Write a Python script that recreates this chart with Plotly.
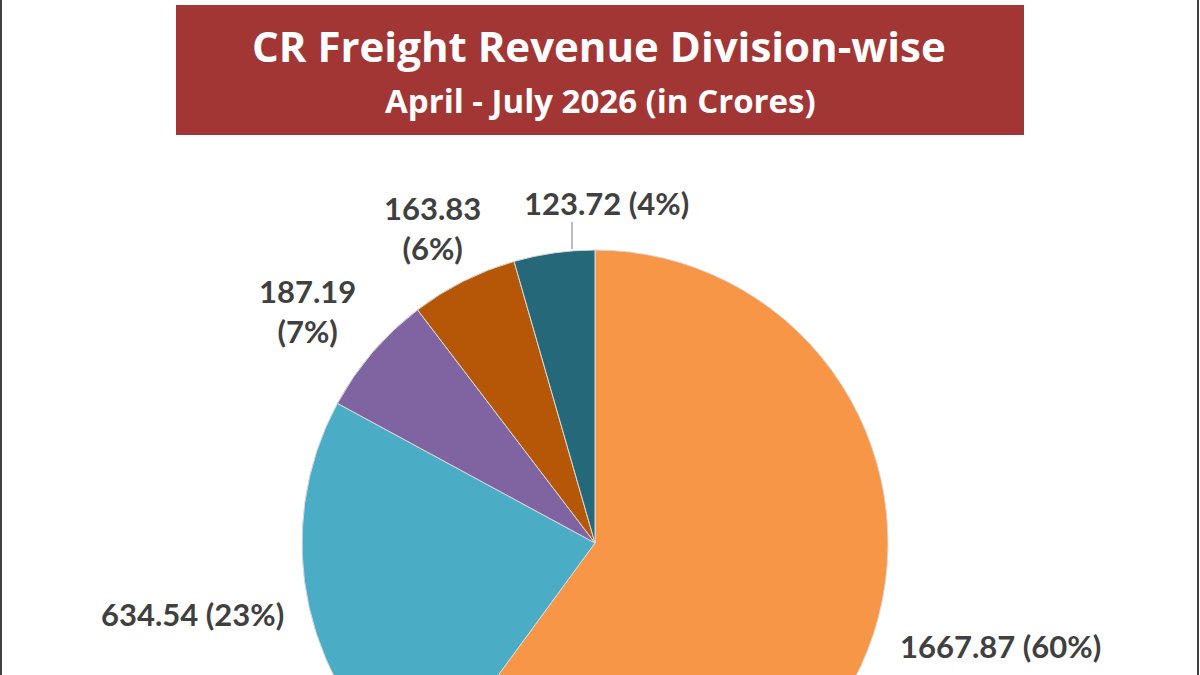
import plotly.graph_objects as go

# data (Rs crore, April - July 2026)
divisions = ['Division 1', 'Division 2', 'Division 3', 'Division 4', 'Division 5']
revenue = [1667.87, 634.54, 187.19, 163.83, 123.72]
slice_colors = ['#F79646', '#4BACC6', '#8064A2', '#B65708', '#25687A']
label_texts = ['1667.87 (60%)', '634.54 (23%)', '187.19<br>(7%)', '163.83<br>(6%)', '123.72 (4%)']

W, H = 1200, 850   # taller than the window so the pie runs off the bottom edge
cx, cy, r = 595, 543, 293

fig = go.Figure()
fig.add_trace(go.Pie(
    labels=divisions, values=revenue, sort=False, direction='clockwise', rotation=0,
    marker=dict(colors=slice_colors, line=dict(color='#D9D9D9', width=1)),
    textinfo='none', hoverinfo='label+value+percent', showlegend=False,
    domain=dict(x=[(cx - r) / W, (cx + r) / W], y=[1 - (cy + r) / H, 1 - (cy - r) / H]),
))

def px2x(v):
    return v / W

def px2y(v):
    return 1 - v / H

# data label positions (pixels in the page)
label_pos = [(1000, 646), (192, 614), (307, 311), (432, 228), (606, 203)]
for txt, (px, py) in zip(label_texts, label_pos):
    fig.add_annotation(x=px2x(px), y=px2y(py), xref='paper', yref='paper', text=txt,
                       showarrow=False, xanchor='center', yanchor='middle',
                       font=dict(family='Lato', size=31, color='#404040', weight='bold'))

# leader line for the small slice
fig.add_shape(type='line', xref='paper', yref='paper', x0=px2x(572), x1=px2x(572),
              y0=px2y(222), y1=px2y(249), line=dict(color='#A6A6A6', width=1.5))

# title box
fig.add_shape(type='rect', xref='paper', yref='paper', x0=px2x(176), x1=px2x(1024),
              y0=px2y(135), y1=px2y(5), fillcolor='#A23634', line=dict(width=0), layer='below')
fig.add_annotation(x=px2x(599), y=px2y(46), xref='paper', yref='paper', showarrow=False,
                   text='CR Freight Revenue Division-wise', yanchor='middle',
                   font=dict(family='Open Sans', size=42, color='white', weight='bold'))
fig.add_annotation(x=px2x(600), y=px2y(100), xref='paper', yref='paper', showarrow=False,
                   text='April - July 2026 (in Crores)', yanchor='middle',
                   font=dict(family='Open Sans', size=33, color='white', weight='bold'))

# thin frame lines at the left and right edges
for xv in (1, 1198):
    fig.add_shape(type='line', xref='paper', yref='paper', x0=px2x(xv), x1=px2x(xv),
                  y0=0, y1=1, line=dict(color='#404040', width=2))

fig.update_layout(width=W, height=H, margin=dict(l=0, r=0, t=0, b=0),
                  paper_bgcolor='white', plot_bgcolor='white')

# drop the default body margin so the figure sits at the page corner
fig.write_html("out.html", config={'displayModeBar': False},
               post_script="document.body.style.margin='0';")
